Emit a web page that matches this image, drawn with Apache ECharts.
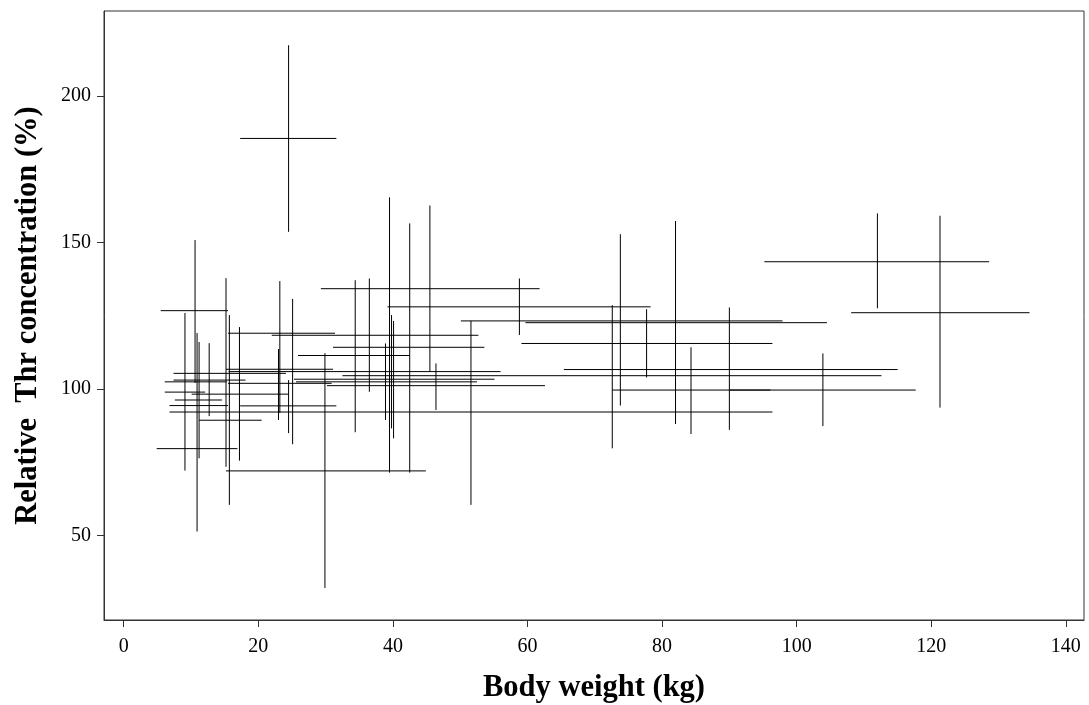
<!DOCTYPE html>
<html>
<head>
<meta charset="utf-8">
<script src="https://cdn.jsdelivr.net/npm/echarts@6/dist/echarts.min.js"></script>
<style>
    html, body { margin: 0; padding: 0; background: #fff; }
    #main { width: 1089px; height: 705px; }
</style>
</head>
<body>
<div id="main"></div>
<script>
// tick labels
var xTicks = [0, 20, 40, 60, 80, 100, 120, 140];
var yTicks = [50, 100, 150, 200];

// body weight range at each concentration: [thr %, weight low, weight high]
var weightBars = [
    [185.6, 17.3, 31.6], [143.5, 95.2, 128.6], [134.3, 29.3, 61.8], [128.1, 39.2, 78.3],
    [126.8, 5.5, 15.5], [126.1, 108.1, 134.6], [123.3, 50.1, 97.9], [122.7, 59.7, 104.5],
    [119.1, 15.5, 31.4], [118.4, 22.0, 52.7], [115.6, 59.1, 96.4], [114.3, 31.1, 53.6],
    [111.5, 25.9, 42.5], [106.8, 15.2, 31.1], [106.7, 65.4, 115.0], [106.0, 15.6, 56.0],
    [105.4, 7.4, 24.1], [104.6, 32.5, 112.6], [103.1, 7.4, 18.1], [102.5, 6.1, 15.3],
    [103.4, 25.3, 55.1], [102.5, 25.6, 52.5], [102.0, 15.5, 30.9], [101.2, 30.2, 62.6],
    [99.7, 72.6, 117.7], [99.7, 90.0, 96.1], [99.0, 6.1, 12.1], [98.3, 10.1, 24.5],
    [96.3, 7.6, 14.6], [94.4, 6.8, 15.5], [94.3, 17.3, 31.6], [92.2, 6.8, 96.4],
    [89.4, 11.2, 20.5], [79.7, 4.9, 16.9], [72.1, 15.2, 44.9]
];

// concentration range at each body weight: [weight kg, thr low, thr high]
var thrBars = [
    [9.1, 72.2, 126.0], [10.6, 102.1, 150.9], [10.9, 51.4, 119.2], [11.2, 76.4, 116.1],
    [12.7, 90.8, 115.7], [15.2, 73.5, 137.9], [15.7, 60.5, 125.3], [17.2, 75.6, 121.2],
    [23.0, 89.5, 113.7], [23.2, 91.9, 136.9], [24.5, 85.0, 103.1], [25.1, 81.2, 130.8],
    [29.9, 32.1, 112.3], [24.5, 153.7, 217.4], [34.4, 85.3, 137.2], [36.5, 99.1, 137.8],
    [38.9, 89.5, 115.6], [39.5, 71.5, 165.5], [39.8, 86.6, 125.3], [40.1, 83.2, 123.3],
    [42.5, 71.5, 156.6], [45.5, 106.0, 162.7], [46.4, 92.9, 108.8], [51.6, 60.5, 123.3],
    [58.8, 118.5, 137.8], [72.6, 79.8, 128.7], [73.8, 94.4, 152.9], [77.7, 104.0, 127.3],
    [82.0, 88.1, 157.4], [84.3, 84.7, 114.3], [90.0, 86.1, 127.9], [103.9, 87.4, 112.2],
    [112.0, 127.6, 160.0], [121.3, 93.7, 159.2]
];

var serif = 'Liberation Serif';

var myChart = echarts.init(document.getElementById('main'));

var lineStyle = { stroke: '#000', lineWidth: 1 };

var option = {
    animation: false,
    backgroundColor: '#fff',
    grid: {
        left: 104, right: 5, top: 11, bottom: 85,
        containLabel: false,
        outerBoundsMode: 'none',
        show: true, borderColor: '#333', borderWidth: 1
    },
    xAxis: {
        type: 'value',
        min: -2.93,
        max: 142.7,
        name: 'Body weight (kg)',
        nameLocation: 'middle',
        nameGap: 53,
        nameTextStyle: { fontFamily: serif, fontWeight: 'bold', fontSize: 30.5, color: '#000' },
        axisLine: { show: true, onZero: false, lineStyle: { color: '#333' } },
        axisTick: { show: true, length: 7, customValues: xTicks, lineStyle: { color: '#333' } },
        axisLabel: { customValues: xTicks, margin: 17, fontFamily: serif, fontSize: 20, color: '#000' },
        splitLine: { show: false }
    },
    yAxis: {
        type: 'value',
        min: 21.2,
        max: 229.1,
        name: 'Relative  Thr concentration (%)',
        nameLocation: 'middle',
        nameGap: 60,
        nameTextStyle: { fontFamily: serif, fontWeight: 'bold', fontSize: 30.5, color: '#000' },
        axisLine: { show: true, onZero: false, lineStyle: { color: '#333' } },
        axisTick: { show: true, length: 7, customValues: yTicks, lineStyle: { color: '#333' } },
        axisLabel: { customValues: yTicks, margin: 13, fontFamily: serif, fontSize: 20, color: '#000' },
        splitLine: { show: false }
    },
    series: [
        {
            type: 'custom',
            silent: true,
            data: weightBars,
            encode: { x: [1, 2], y: 0 },
            renderItem: function (params, api) {
                var a = api.coord([api.value(1), api.value(0)]);
                var b = api.coord([api.value(2), api.value(0)]);
                return { type: 'line', shape: { x1: a[0], y1: a[1], x2: b[0], y2: b[1] }, style: lineStyle };
            }
        },
        {
            type: 'custom',
            silent: true,
            data: thrBars,
            encode: { x: 0, y: [1, 2] },
            renderItem: function (params, api) {
                var a = api.coord([api.value(0), api.value(1)]);
                var b = api.coord([api.value(0), api.value(2)]);
                return { type: 'line', shape: { x1: a[0], y1: a[1], x2: b[0], y2: b[1] }, style: lineStyle };
            }
        }
    ]
};

myChart.setOption(option);
</script>
</body>
</html>
